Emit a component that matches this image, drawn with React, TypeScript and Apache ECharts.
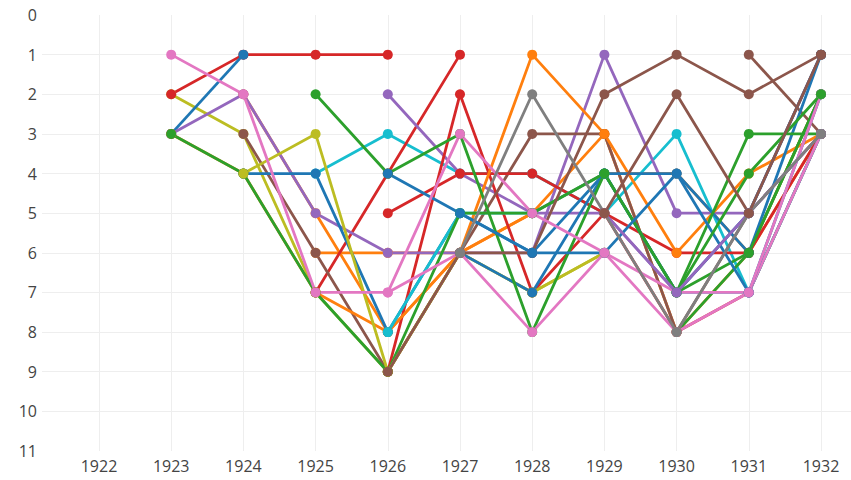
import React, { useEffect, useRef } from "react";
import * as echarts from "echarts";

// Years on the x axis (1922..1932); every series array holds one value per year
const years = [1922, 1923, 1924, 1925, 1926, 1927, 1928, 1929, 1930, 1931, 1932];
const rankTicks = [0, 1, 2, 3, 4, 5, 6, 7, 8, 9, 10, 11];

const BLUE = "#1f77b4";
const ORANGE = "#ff7f0e";
const GREEN = "#2ca02c";
const RED = "#d62728";
const PURPLE = "#9467bd";
const BROWN = "#8c564b";
const PINK = "#e377c2";
const GRAY = "#7f7f7f";
const OLIVE = "#bcbd22";
const CYAN = "#17becf";

const _ = null;
//                1922 1923 1924 1925 1926 1927 1928 1929 1930 1931 1932
const orange3 = [_, _, 2, 5, 8, 6, 5, 3, 8, 6, 3];
const orange2 = [_, _, _, 6, 6, 6, 5, 4, 4, 6, 2];
const olive1 = [_, 2, 3, 7, 9, 6, 7, 6, _, _, _];
const cyan1 = [_, _, _, 4, 3, 4, 4, 5, 3, 7, 3];
const red2 = [_, _, _, 7, 4, 1, _, _, _, _, _];
const purple2 = [_, _, _, _, 2, 4, 5, 5, 7, 5, 1];
const red4 = [_, _, _, _, 9, 2, 7, 5, 8, 7, 3];
const brown4 = [_, _, _, _, _, _, _, _, _, 1, 3];
const green3 = [_, _, _, _, _, _, _, _, 8, 6, 2];
const red1 = [_, 2, 1, 1, 1, _, _, _, _, _, _];
const blue1 = [_, 3, 1, _, _, _, _, _, _, _, _];
const purple1 = [_, 3, 2, 5, 6, 6, 6, 1, 5, 5, 3];
const brown1 = [_, _, 3, 6, 9, 6, 3, 3, 8, 5, 3];
const red3 = [_, _, _, _, 5, 4, 4, 5, 6, 6, 3];
const orange1 = [_, 3, 4, 7, 8, 6, 1, 3, 6, 4, 3];
const blue2 = [_, _, 4, 4, 8, 5, 6, 4, 4, 6, 1];
const cyan2 = [_, _, _, _, 8, 5, 5, 4, 7, 7, 3];
const green1 = [_, 3, 4, 7, 9, 5, 5, 4, 7, 3, 3];
const olive2 = [_, _, 4, 3, 9, 6, 7, 6, _, _, _];
const blue3 = [_, _, _, _, _, 6, 7, 4, 7, 5, 1];
const green2 = [_, _, _, 2, 4, 3, 8, 4, 7, 6, 2];
const pink2 = [_, _, _, _, 7, 6, 8, 6, 8, 7, 3];
const brown2 = [_, _, _, _, 9, 6, 6, 2, 1, 2, 1];
const blue4 = [_, _, _, _, 4, 5, 6, 6, 4, 7, 2];
const pink1 = [_, 1, 2, 7, 7, 3, 5, 6, 7, 7, 2];
const green4 = [_, _, _, _, _, _, _, _, 7, 4, 2];
const purple3 = [_, _, _, _, _, _, _, 5, 7, 5, 3];
const gray1 = [_, _, _, _, _, 6, 2, 5, 8, 5, 3];
const brown3 = [_, _, _, _, _, _, _, 5, 2, 5, 1];

// drawing order: later entries are painted on top
const seriesList: { name: string; color: string; values: (number | null)[] }[] = [
  { name: "orange3", color: ORANGE, values: orange3 },
  { name: "orange2", color: ORANGE, values: orange2 },
  { name: "olive1", color: OLIVE, values: olive1 },
  { name: "cyan1", color: CYAN, values: cyan1 },
  { name: "red2", color: RED, values: red2 },
  { name: "purple2", color: PURPLE, values: purple2 },
  { name: "red4", color: RED, values: red4 },
  { name: "brown4", color: BROWN, values: brown4 },
  { name: "green3", color: GREEN, values: green3 },
  { name: "red1", color: RED, values: red1 },
  { name: "blue1", color: BLUE, values: blue1 },
  { name: "purple1", color: PURPLE, values: purple1 },
  { name: "brown1", color: BROWN, values: brown1 },
  { name: "red3", color: RED, values: red3 },
  { name: "orange1", color: ORANGE, values: orange1 },
  { name: "blue2", color: BLUE, values: blue2 },
  { name: "cyan2", color: CYAN, values: cyan2 },
  { name: "green1", color: GREEN, values: green1 },
  { name: "olive2", color: OLIVE, values: olive2 },
  { name: "blue3", color: BLUE, values: blue3 },
  { name: "green2", color: GREEN, values: green2 },
  { name: "pink2", color: PINK, values: pink2 },
  { name: "brown2", color: BROWN, values: brown2 },
  { name: "blue4", color: BLUE, values: blue4 },
  { name: "pink1", color: PINK, values: pink1 },
  { name: "green4", color: GREEN, values: green4 },
  { name: "purple3", color: PURPLE, values: purple3 },
  { name: "gray1", color: GRAY, values: gray1 },
  { name: "brown3", color: BROWN, values: brown3 },
];

const FONT = "'Open Sans', 'DejaVu Sans', sans-serif";

export default function App() {
  const ref = useRef<HTMLDivElement>(null);

  useEffect(() => {
    if (!ref.current) return;
    const chart = echarts.init(ref.current, undefined, { renderer: "svg" });

    const series = seriesList.map((s) => ({
      name: s.name,
      type: "line",
      xAxisIndex: 1,
      yAxisIndex: 1,
      data: years
        .map((y, i) => [y, s.values[i]])
        .filter((p) => p[1] !== null),
      symbol: "circle",
      symbolSize: 10,
      showSymbol: true,
      clip: false,
      color: s.color,
      lineStyle: { color: s.color, width: 2.8 },
      itemStyle: { color: s.color },
      emphasis: { disabled: true },
      silent: true,
    }));

    chart.setOption({
      animation: false,
      backgroundColor: "#ffffff",
      grid: [
        { left: 42, right: 0, top: 15, bottom: 29 },
        { left: 99, right: 30, top: 15, bottom: 29 },
      ],
      xAxis: [
        { gridIndex: 0, type: "value", min: 0, max: 1, show: false },
        {
          gridIndex: 1,
          type: "value",
          min: years[0],
          max: years[years.length - 1],
          interval: 1,
          axisLine: { show: false },
          axisTick: { show: false },
          splitLine: { show: true, lineStyle: { color: "#eeeeee", width: 1 } },
          axisLabel: {
            color: "#444",
            fontSize: 16,
            fontFamily: FONT,
            margin: 7,
            formatter: (v: number) => String(v),
          },
        },
      ],
      yAxis: [
        {
          gridIndex: 0,
          type: "value",
          inverse: true,
          min: rankTicks[0],
          max: rankTicks[rankTicks.length - 1],
          interval: 1,
          axisLine: { show: false },
          axisTick: { show: false },
          splitLine: {
            show: true,
            showMinLine: false,
            showMaxLine: false,
            lineStyle: { color: "#eeeeee", width: 1 },
          },
          axisLabel: {
            color: "#444",
            fontSize: 16,
            fontFamily: FONT,
            margin: 5,
            padding: [7, 0, 0, 0],
            formatter: (v: number) => String(v),
          },
        },
        {
          gridIndex: 1,
          type: "value",
          inverse: true,
          min: rankTicks[0],
          max: rankTicks[rankTicks.length - 1],
          show: false,
        },
      ],
      series,
    });

    return () => chart.dispose();
  }, []);

  return (
    <div
      ref={ref}
      style={{ position: "fixed", left: 0, top: 0, width: 851, height: 480 }}
    />
  );
}
